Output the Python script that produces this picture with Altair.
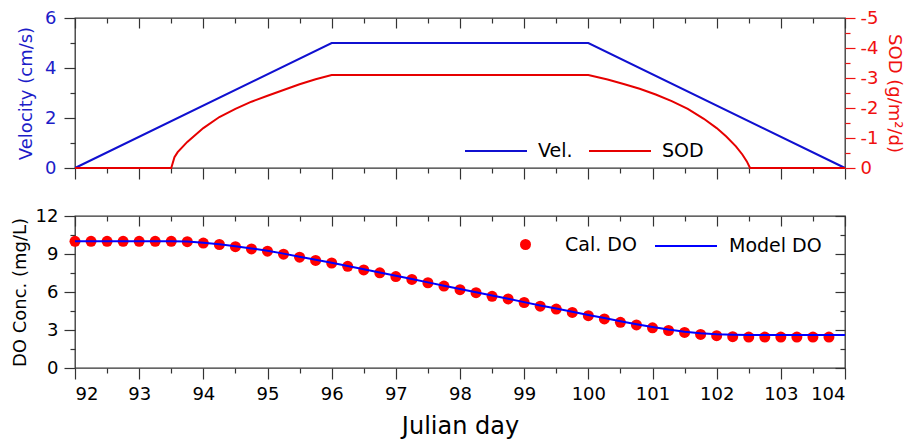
import altair as alt
import pandas as pd

# ---------------- data ----------------
vel_days = [92, 96, 100, 104]
velocity = [0, 5, 5, 0]

sod_days = [92, 93.5, 93.55, 93.6, 93.75, 94, 94.25, 94.5, 94.75, 95, 95.25, 95.5, 95.75, 96,
            100, 100.3, 100.55, 100.8, 101.05, 101.3, 101.55, 101.8, 102.0, 102.15, 102.3,
            102.4, 102.47, 102.52, 104]
sod_vals = [0, 0, -0.36, -0.53, -0.87, -1.33, -1.70, -1.97, -2.21, -2.41, -2.60, -2.79, -2.96, -3.1,
            -3.1, -2.95, -2.80, -2.64, -2.45, -2.23, -1.97, -1.64, -1.33, -1.05, -0.72,
            -0.45, -0.22, 0, 0]

cal_days = [92, 92.25, 92.5, 92.75, 93, 93.25, 93.5, 93.75, 94, 94.25, 94.5, 94.75,
            95, 95.25, 95.5, 95.75, 96, 96.25, 96.5, 96.75, 97, 97.25, 97.5, 97.75,
            98, 98.25, 98.5, 98.75, 99, 99.25, 99.5, 99.75, 100, 100.25, 100.5, 100.75,
            101, 101.25, 101.5, 101.75, 102, 102.25, 102.5, 102.75, 103, 103.25, 103.5, 103.75]
cal_do = [10.0, 10.0, 10.0, 10.0, 10.0, 10.0, 10.0, 9.97, 9.86, 9.75, 9.58, 9.40,
          9.22, 8.99, 8.75, 8.49, 8.29, 8.03, 7.74, 7.51, 7.22, 6.99, 6.73, 6.47,
          6.18, 5.95, 5.66, 5.45, 5.17, 4.88, 4.65, 4.39, 4.13, 3.87, 3.61, 3.40,
          3.17, 2.96, 2.81, 2.65, 2.55, 2.47, 2.44, 2.44, 2.44, 2.44, 2.44, 2.44]

model_days = [92, 92.5, 93, 93.5, 93.75, 94, 94.25, 94.5, 94.75, 95, 95.25, 95.5, 95.75,
              96, 96.25, 96.5, 96.75, 97, 97.25, 97.5, 97.75, 98, 98.25, 98.5, 98.75,
              99, 99.25, 99.5, 99.75, 100, 100.25, 100.5, 100.75, 101, 101.25, 101.5,
              101.75, 102, 102.25, 102.5, 103, 103.5, 104]
model_do = [10.0, 10.0, 10.0, 10.0, 9.98, 9.89, 9.77, 9.62, 9.44, 9.25, 9.03, 8.79, 8.54,
            8.31, 8.06, 7.80, 7.54, 7.28, 7.02, 6.76, 6.50, 6.24, 5.98, 5.72, 5.46,
            5.20, 4.94, 4.69, 4.44, 4.19, 3.94, 3.69, 3.46, 3.24, 3.04, 2.87,
            2.74, 2.66, 2.62, 2.60, 2.60, 2.60, 2.60]

x_ticks = [92 + 0.5 * i for i in range(25)]
vel_ticks = [0, 1, 2, 3, 4, 5, 6]
sod_ticks = [0, -0.5, -1, -1.5, -2, -2.5, -3, -3.5, -4, -4.5, -5]
do_ticks = [0, 1.5, 3, 4.5, 6, 7.5, 9, 10.5, 12]

vel_df = pd.DataFrame({"day": vel_days, "vel": velocity, "series": "Vel."})
sod_df = pd.DataFrame({"day": sod_days, "sod": sod_vals, "series": "SOD"})
cal_df = pd.DataFrame({"day": cal_days, "do": cal_do, "series": "Cal. DO"})
model_df = pd.DataFrame({"day": model_days, "do": model_do, "series": "Model DO"})

# ---------------- style ----------------
FONT = "DejaVu Sans"
BLUE_LINE = "#1010d0"
BLUE_TXT = "#1c1cc8"
RED = "#e60000"
RED_TXT = "#f01010"
DARK = "#333333"
W, H1, H2 = 770, 150, 152
BOT_OFF = 195  # vertical offset of the lower plot relative to the upper one


def tsize(test, major, minor):
    return {"condition": {"test": test, "value": major}, "value": minor}


INT = "datum.value % 1 === 0"
INT_LABEL = "datum.value % 1 === 0 ? '' + datum.value : ''"
xscale = alt.Scale(domain=[92, 104], nice=False, zero=False)

common_axis = dict(domain=False, tickColor=DARK, tickWidth=1.2, labelFont=FONT,
                   labelFontSize=18, titleFont=FONT, titleFontSize=18,
                   titleFontWeight="normal", grid=False)

# ---------------- top panel ----------------
ax_top_x = alt.Axis(values=x_ticks, labels=False, title=None,
                    tickSize=tsize(INT, 11, 5), **common_axis)
ax_top_x_mirror = alt.Axis(values=x_ticks, labels=False, title=None, orient="top",
                           tickSize=tsize(INT, -10, -5), **common_axis)
ax_vel = alt.Axis(values=vel_ticks, title="Velocity (cm/s)", titleColor=BLUE_TXT,
                  labelColor=BLUE_TXT,
                  labelExpr="datum.value % 2 === 0 ? '' + datum.value : ''",
                  tickSize=tsize("datum.value % 2 === 0", 11, 5), labelPadding=8,
                  titlePadding=9, **common_axis)
ax_sod = alt.Axis(values=sod_ticks, title="SOD (g/m²/d)", orient="right",
                  titleColor=RED_TXT, labelColor=RED_TXT, tickColor=RED_TXT,
                  labelExpr=INT_LABEL,
                  tickSize=tsize(INT, 10, 5), labelPadding=5, titlePadding=7,
                  domain=False, tickWidth=1.2, labelFont=FONT, labelFontSize=18,
                  titleFont=FONT, titleFontSize=18, titleFontWeight="normal", grid=False)

color_scale = alt.Scale(domain=["Vel.", "SOD"], range=[BLUE_LINE, RED])
top_legend = alt.Legend(
    orient="none", legendX=389, legendY=101, direction="horizontal", title=None,
    symbolType="stroke", symbolSize=3844, symbolStrokeWidth=2, labelOffset=10,
    columnPadding=12, labelFont=FONT, labelFontSize=19, labelColor="black", padding=0)

vel_line = alt.Chart(vel_df).mark_line(strokeWidth=2).encode(
    x=alt.X("day:Q", scale=xscale, axis=ax_top_x),
    y=alt.Y("vel:Q", scale=alt.Scale(domain=[0, 6], nice=False), axis=ax_vel),
    color=alt.Color("series:N", scale=color_scale, legend=top_legend),
)
sod_line = alt.Chart(sod_df).mark_line(strokeWidth=2).encode(
    x=alt.X("day:Q", scale=xscale, axis=None),
    y=alt.Y("sod:Q", scale=alt.Scale(domain=[0, -5], nice=False), axis=ax_sod),
    color=alt.Color("series:N", scale=color_scale, legend=top_legend),
)
top_mirror = alt.Chart(vel_df).mark_point(opacity=0).encode(
    x=alt.X("day:Q", scale=xscale, axis=ax_top_x_mirror),
)
top = alt.layer(vel_line, sod_line, top_mirror).resolve_scale(y="independent").resolve_axis(
    x="independent").properties(width=W, height=H1)

# ---------------- bottom panel ----------------
ax_bot_x = alt.Axis(values=x_ticks, title="Julian day", titleFontSize=24, titleColor="black",
                    labelColor="black", labelExpr=INT_LABEL,
                    tickSize=tsize(INT, 11, 5), labelPadding=6, titlePadding=11,
                    domain=False, tickColor=DARK, tickWidth=1.2, labelFont=FONT,
                    labelFontSize=18, titleFont=FONT, titleFontWeight="normal", grid=False)
ax_bot_x_mirror = alt.Axis(values=x_ticks, labels=False, title=None, orient="top",
                           tickSize=tsize(INT, -10, -5), **common_axis)
ax_do = alt.Axis(values=do_ticks, title="DO Conc. (mg/L)", titleColor="black",
                 labelColor="black",
                 labelExpr="datum.value % 3 === 0 ? '' + datum.value : ''",
                 tickSize=tsize("datum.value % 3 === 0", 11, 5), labelPadding=6,
                 titlePadding=6, **common_axis)
ax_do_mirror = alt.Axis(values=do_ticks, labels=False, title=None, orient="right",
                        tickSize=tsize("datum.value % 3 === 0", -10, -5), **common_axis)

doscale = alt.Scale(domain=[0, 12], nice=False)

pts = alt.Chart(cal_df).mark_circle(size=121, opacity=1).encode(
    x=alt.X("day:Q", scale=xscale, axis=ax_bot_x),
    y=alt.Y("do:Q", scale=doscale, axis=ax_do),
    fill=alt.Fill("series:N", scale=alt.Scale(domain=["Cal. DO"], range=["#ff0000"]),
                  legend=alt.Legend(orient="none", legendX=441, legendY=BOT_OFF + 22,
                                    title=None, symbolType="circle", symbolSize=121,
                                    labelOffset=30, labelFont=FONT, labelFontSize=19,
                                    labelColor="black", padding=0)),
)
model_line = alt.Chart(model_df).mark_line(strokeWidth=2).encode(
    x=alt.X("day:Q", scale=xscale, axis=None),
    y=alt.Y("do:Q", scale=doscale, axis=None),
    stroke=alt.Stroke("series:N", scale=alt.Scale(domain=["Model DO"], range=["#0000ff"]),
                      legend=alt.Legend(orient="none", legendX=579, legendY=BOT_OFF + 1,
                                        title=None, symbolType="stroke", symbolSize=3844,
                                        symbolStrokeWidth=2, labelOffset=11,
                                        labelFont=FONT, labelFontSize=19,
                                        labelColor="black", padding=0)),
)
bot_mirror_x = alt.Chart(model_df).mark_point(opacity=0).encode(
    x=alt.X("day:Q", scale=xscale, axis=ax_bot_x_mirror),
)
bot_mirror_y = alt.Chart(model_df).mark_point(opacity=0).encode(
    y=alt.Y("do:Q", scale=doscale, axis=ax_do_mirror),
)
bottom = alt.layer(pts, model_line, bot_mirror_x, bot_mirror_y).resolve_axis(
    x="independent", y="independent").properties(width=W, height=H2)

chart = alt.vconcat(top, bottom, spacing=25).resolve_scale(color="independent").properties(
    padding={"left": 2, "top": 0, "right": 5, "bottom": 0},
    background="white",
).configure_view(stroke=DARK, strokeWidth=1.3)

chart.save("out.html", embed_options={"renderer": "svg", "actions": False})
